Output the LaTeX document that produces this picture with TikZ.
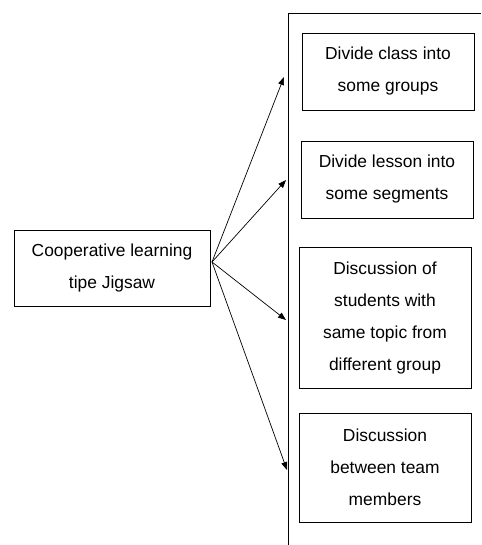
\documentclass[tikz,border=0pt]{standalone}
\usepackage{fontspec}
\setmainfont{Liberation Sans}
\usetikzlibrary{arrows.meta}
\begin{document}
\begin{tikzpicture}[x=1pt,y=-1pt,
  box/.style={draw, line width=0.8pt, align=center, inner sep=0pt,
    font=\fontsize{17.4}{32}\selectfont},
  conn/.style={line width=0.7pt, -{Triangle[length=8pt,width=6pt]}}]
\useasboundingbox (0,0) rectangle (481,545);
\fill[white] (0,0) rectangle (481,545);
% frame
\coordinate (fb) at (288,545);
\coordinate (ft) at (288,13);
\coordinate (fr) at (481,13);
\draw[line width=0.8pt] (fb) -- (ft) -- (fr);
% boxes
\node[box, minimum width=196pt, minimum height=76pt] (src) at (112,268) {Cooperative learning\\tipe Jigsaw};
\node[box, minimum width=172pt, minimum height=77pt] (b1) at (388,71.5) {Divide class into\\some groups};
\node[box, minimum width=172pt, minimum height=77pt] (b2) at (387,179.5) {Divide lesson into\\some segments};
\node[box, minimum width=172pt, minimum height=141pt] (b3) at (385,317.5) {Discussion of\\students with\\same topic from\\different group};
\node[box, minimum width=172pt, minimum height=109pt] (b4) at (385,467.5) {Discussion\\between team\\members};
% arrows
\coordinate (o) at (212,262);
\coordinate (t1) at (284,77);
\coordinate (t2) at (286,180);
\coordinate (t3) at (286,320);
\coordinate (t4) at (287,470);
\draw[conn] (o) -- (t1);
\draw[conn] (o) -- (t2);
\draw[conn] (o) -- (t3);
\draw[conn] (o) -- (t4);
\end{tikzpicture}
\end{document}
